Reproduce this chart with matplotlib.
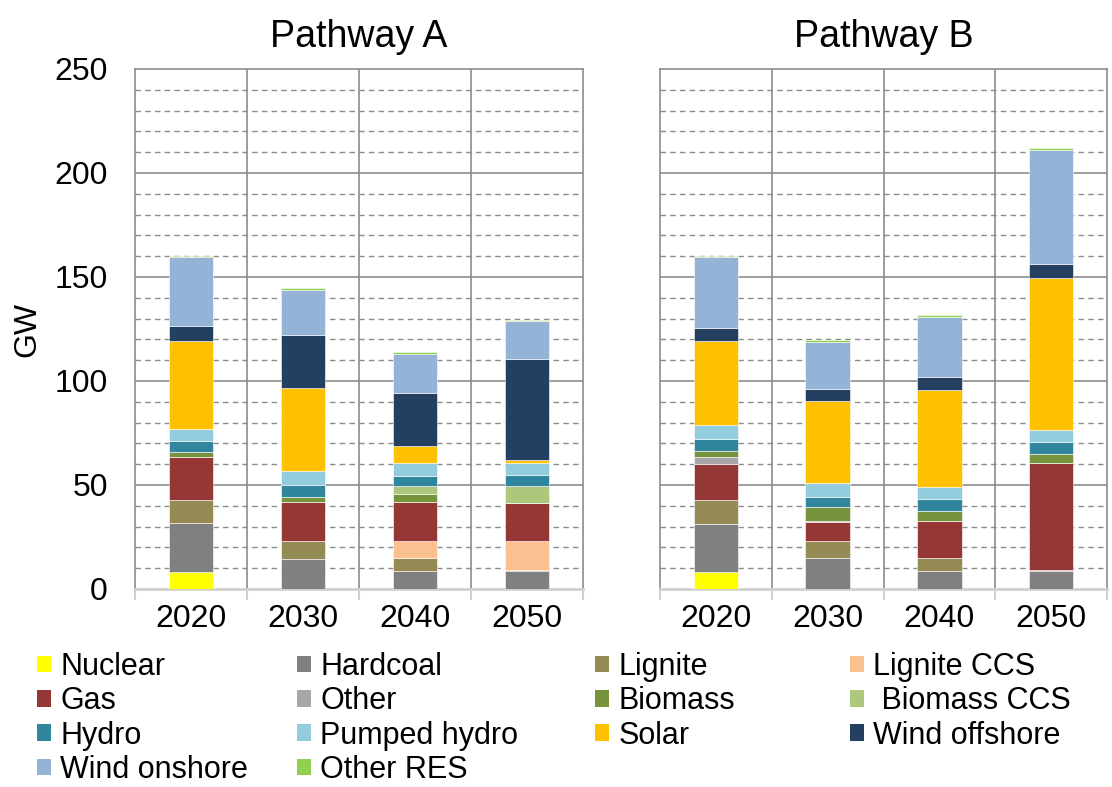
import matplotlib
matplotlib.use("Agg")
import matplotlib.pyplot as plt
import numpy as np
from matplotlib.patches import Patch

plt.rcParams["font.family"] = ["Liberation Sans", "DejaVu Sans"]

years = ["2020", "2030", "2040", "2050"]

# GW per technology, [2020, 2030, 2040, 2050]
nuclear_a = [8.0, 0, 0, 0]
nuclear_b = [8.3, 0, 0, 0]
hardcoal_a = [23.6, 14.3, 8.5, 8.5]
hardcoal_b = [23.1, 15.1, 8.5, 8.5]
lignite_a = [11.3, 8.8, 6.6, 0.8]
lignite_b = [11.5, 8.0, 6.5, 0.8]
lignite_ccs_a = [0, 0, 7.8, 13.6]
lignite_ccs_b = [0, 0, 0, 0]
gas_a = [20.7, 18.7, 19.1, 18.6]
gas_b = [17.0, 9.0, 17.7, 51.2]
other_a = [0, 0, 0, 0]
other_b = [3.7, 0.8, 0, 0]
biomass_a = [2.1, 2.4, 3.7, 0]
biomass_b = [2.9, 6.4, 5.0, 4.5]
biomass_ccs_a = [0, 0, 3.7, 7.9]
biomass_ccs_b = [0, 0, 0, 0]
hydro_a = [5.6, 5.8, 4.8, 5.4]
hydro_b = [5.6, 5.1, 5.6, 5.6]
pumped_a = [5.8, 6.6, 6.5, 5.9]
pumped_b = [6.6, 6.4, 5.7, 5.8]
solar_a = [42.3, 39.9, 7.9, 1.5]
solar_b = [40.7, 39.4, 46.7, 73.3]
wind_off_a = [7.0, 25.6, 25.8, 48.5]
wind_off_b = [6.2, 6.1, 6.1, 6.4]
wind_on_a = [33.1, 21.7, 18.6, 18.0]
wind_on_b = [33.9, 22.5, 28.9, 55.1]
other_res_a = [0.8, 0.8, 0.8, 0.8]
other_res_b = [0.8, 0.8, 0.8, 0.8]

labels = ["Nuclear", "Hardcoal", "Lignite", "Lignite CCS", "Gas", "Other",
          "Biomass", " Biomass CCS", "Hydro", "Pumped hydro", "Solar",
          "Wind offshore", "Wind onshore", "Other RES"]
colors = ["#FFFF00", "#808080", "#948A54", "#FAC090", "#953735", "#A6A6A6",
          "#77933C", "#ADC77D", "#31859C", "#93CDDD", "#FFC000",
          "#243F60", "#95B3D7", "#92D050"]

series_a = [nuclear_a, hardcoal_a, lignite_a, lignite_ccs_a, gas_a, other_a,
            biomass_a, biomass_ccs_a, hydro_a, pumped_a, solar_a,
            wind_off_a, wind_on_a, other_res_a]
series_b = [nuclear_b, hardcoal_b, lignite_b, lignite_ccs_b, gas_b, other_b,
            biomass_b, biomass_ccs_b, hydro_b, pumped_b, solar_b,
            wind_off_b, wind_on_b, other_res_b]

W, H = 1112, 787
fig = plt.figure(figsize=(W / 100, H / 100), dpi=100)
ax_a = fig.add_axes([135 / W, 1 - 589 / H, 448 / W, 520 / H])
ax_b = fig.add_axes([660 / W, 1 - 589 / H, 447 / W, 520 / H])

grid_col = "#8c8c8c"
x = np.arange(len(years))
for ax, series, title in [(ax_a, series_a, "Pathway A"), (ax_b, series_b, "Pathway B")]:
    bottom = np.zeros(len(years))
    for vals, col in zip(series, colors):
        vals = np.array(vals, dtype=float)
        ax.bar(x, vals, 0.4, bottom=bottom, color=col, edgecolor="white",
               linewidth=0.4, zorder=3)
        bottom += vals
    ax.set_xlim(-0.5, 3.5)
    ax.set_ylim(0, 250)
    for v in range(10, 250, 10):
        if v % 50:
            ax.axhline(v, color=grid_col, lw=1.0, ls=(0, (4, 3)), zorder=1)
        else:
            ax.axhline(v, color=grid_col, lw=1.2, zorder=1)
    for b in [0.5, 1.5, 2.5]:
        ax.axvline(b, color=grid_col, lw=1.2, zorder=1)
    for s in ["left", "top", "right"]:
        ax.spines[s].set_color(grid_col)
        ax.spines[s].set_linewidth(1.2)
    ax.spines["bottom"].set_color("#d0d0d0")
    ax.spines["bottom"].set_linewidth(2)
    ax.set_xticks(x)
    ax.set_xticklabels(years, fontsize=23)
    ax.set_xticks(np.arange(-0.5, 4.0, 1.0), minor=True)
    ax.tick_params(axis="x", which="major", length=0, pad=10.5)
    ax.tick_params(axis="x", which="minor", length=8, width=1.5, color="#d0d0d0")
    ax.set_yticks(range(0, 251, 50))
    ax.tick_params(axis="y", length=0, labelsize=23, pad=19.5)
    ax.set_title(title, fontsize=27, pad=16)

ax_b.set_yticklabels([])
ax_a.set_ylabel("GW", fontsize=23, labelpad=9)

# legend laid out column by column like the original
cols = [[0, 4, 8, 12], [1, 5, 9, 13], [2, 6, 10], [3, 7, 11]]
col_x = [37, 297, 595, 850]
for idx, cx in zip(cols, col_x):
    handles = [Patch(facecolor=colors[i], edgecolor="none") for i in idx]
    fig.legend(handles, [labels[i] for i in idx], loc="upper left",
               bbox_to_anchor=(cx / W, 1 - 652 / H), frameon=False,
               fontsize=22, handlelength=0.46, handleheight=0.46,
               handletextpad=0.3, labelspacing=0.14, borderpad=0,
               borderaxespad=0)

fig.savefig("out.png", dpi=100)
